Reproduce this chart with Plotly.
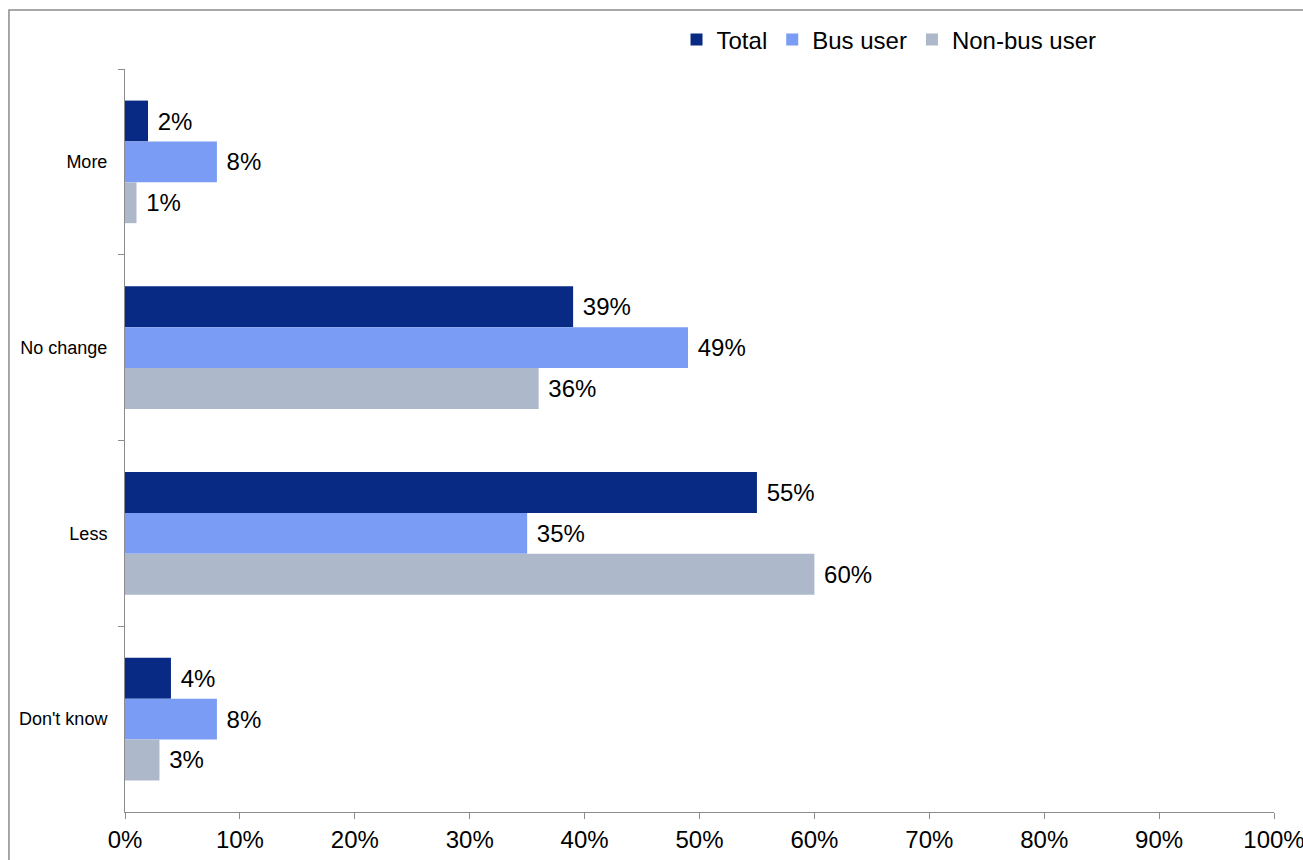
import plotly.graph_objects as go

categories = ["More", "No change", "Less", "Don't know"]
total = [0.02, 0.39, 0.55, 0.04]
bus_user = [0.08, 0.49, 0.35, 0.08]
non_bus_user = [0.01, 0.36, 0.60, 0.03]
x_ticks = [0, 0.1, 0.2, 0.3, 0.4, 0.5, 0.6, 0.7, 0.8, 0.9, 1.0]
x_tick_labels = ["0%", "10%", "20%", "30%", "40%", "50%", "60%", "70%", "80%", "90%", "100%"]

series = [
    ("Total", total, "#082A84"),
    ("Bus user", bus_user, "#7B9CF4"),
    ("Non-bus user", non_bus_user, "#ADB8CA"),
]

fig = go.Figure()
for name, vals, color in series:
    fig.add_trace(go.Bar(
        y=categories, x=vals, name=name, orientation="h",
        marker=dict(color=color, line=dict(width=0)),
        texttemplate=" %{x:.0%}", textposition="outside",
        textfont=dict(family="Arial", size=24, color="#000000"),
        cliponaxis=False,
    ))

fig.update_layout(
    width=1303, height=860,
    margin=dict(l=125, r=29, t=69, b=48),
    paper_bgcolor="white", plot_bgcolor="white",
    barmode="group", bargap=0.34, bargroupgap=0,
    font=dict(family="Arial", color="#000000"),
    legend=dict(
        orientation="h", x=0.48, y=1.039, xanchor="left", yanchor="middle",
        font=dict(family="Arial", size=24, color="#000000"),
        traceorder="normal", itemwidth=30, bgcolor="rgba(0,0,0,0)",
    ),
    xaxis=dict(
        range=[0, 1], tickvals=x_ticks, ticktext=x_tick_labels,
        showgrid=False, zeroline=False, automargin=False,
        ticklabeloverflow="allow",
        showline=True, linecolor="#8C8C8C", linewidth=1,
        ticks="outside", ticklen=6, tickcolor="#8C8C8C",
        tickfont=dict(family="Arial", size=24, color="#000000"),
    ),
    yaxis=dict(
        autorange="reversed", showgrid=False, zeroline=False, automargin=False,
        showline=True, linecolor="#8C8C8C", linewidth=1,
        ticks="outside", ticklen=6, tickcolor="#8C8C8C", tickson="boundaries",
        ticklabelstandoff=13,
        tickfont=dict(family="Arial", size=18, color="#000000"),
    ),
    shapes=[dict(
        type="rect", xref="paper", yref="paper",
        x0=-0.101, x1=1.2, y0=-0.3, y1=1.0794,
        line=dict(color="#8C8C8C", width=1.5), fillcolor="rgba(0,0,0,0)",
        layer="below",
    )],
)

fig.write_html("out.html")
